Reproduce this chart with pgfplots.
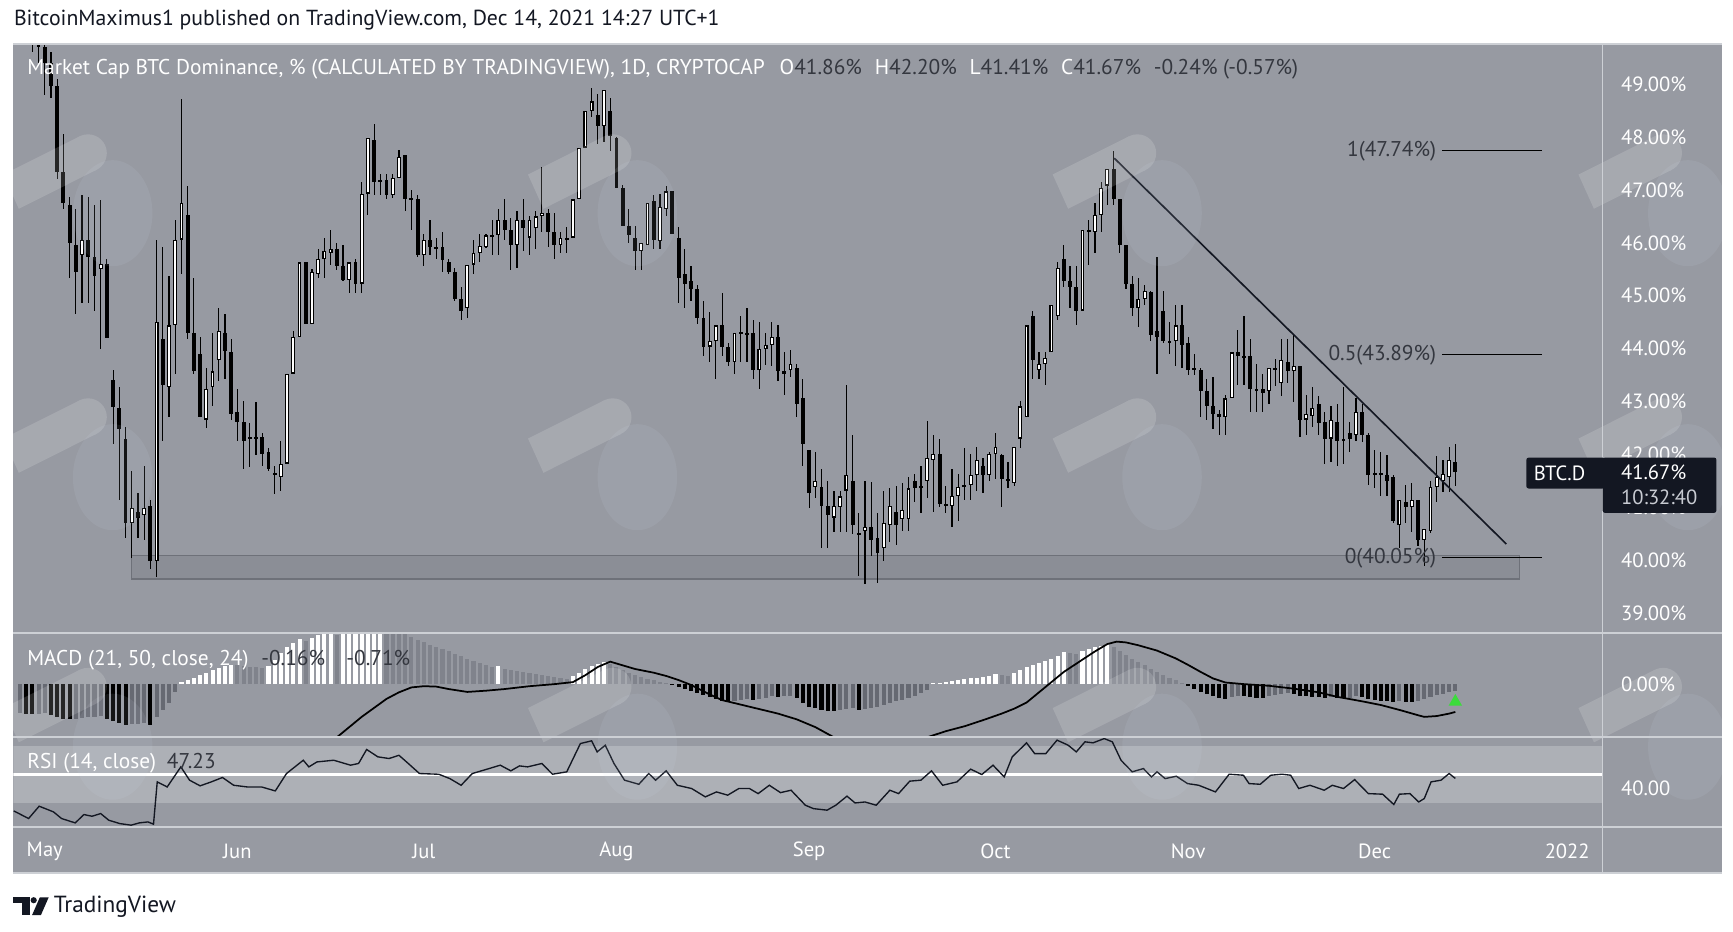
\documentclass[border=0pt]{standalone}
\usepackage{pgfplots}
\pgfplotsset{compat=1.18}
\usepackage{pgfplotstable}
\usepackage{fontspec}
\setmainfont{PT Sans}
\definecolor{pane}{HTML}{979AA2}
\definecolor{sepc}{HTML}{CDD0D5}
\definecolor{dtxt}{HTML}{34373F}
\definecolor{band}{HTML}{ADB0B6}
\definecolor{hgray}{HTML}{80838C}
\definecolor{ngray}{HTML}{666972}
\definecolor{tvblk}{HTML}{131722}
\definecolor{rectf}{HTML}{8B8E96}
\definecolor{rectd}{HTML}{6E7179}
\definecolor{wmblue}{HTML}{D8E0F0}
\newcommand{\tv}{\fontsize{5.5pt}{6.5pt}\selectfont}
\newcommand{\tvs}{\fontsize{5.3pt}{6.3pt}\selectfont}

\pgfplotstableread{
d o h l c
-3 50.6 51.0 50.0 50.3
-2 50.3 50.6 49.6 49.8
-1 49.8 50.1 49.4 49.7
0 49.7 49.9 48.8 49.4
1 49.4 49.6 48.74 48.96
2 48.96 49.1 47.2 47.33
3 47.33 48.06 46.64 46.75
4 46.72 46.86 45.34 46.0
5 45.96 46.64 44.65 45.45
6 45.77 46.9 44.87 46.06
7 46.06 46.86 44.87 45.74
8 45.74 46.72 44.72 45.38
9 45.5 46.8 44.0 45.6
10 45.6 45.7 44.2 44.2
11 43.4 43.6 42.2 42.9
12 42.88 43.28 41.14 42.48
13 42.3 42.52 40.42 40.7
14 40.7 41.68 40.05 40.99
15 40.92 41.28 40.42 40.81
16 40.85 41.79 40.38 40.99
17 41.03 41.14 39.84 39.98
18 39.98 46.06 39.69 44.51
19 44.18 45.92 42.26 43.31
20 43.28 45.38 42.7 44.44
21 44.44 46.43 43.53 46.06
22 46.06 48.71 45.41 46.75
23 46.53 47.08 44.18 44.29
24 44.29 45.34 43.53 43.57
25 43.89 44.22 42.7 42.7
26 42.66 43.64 42.5 43.24
27 43.28 44.29 42.91 43.57
28 43.78 44.76 43.39 44.33
29 44.29 44.65 43.42 43.96
30 43.93 44.18 42.66 42.77
31 42.8 43.24 42.26 42.62
32 42.62 43.02 41.72 42.26
33 42.33 42.59 41.76 42.3
34 42.33 43.0 42.0 42.3
35 42.33 42.41 41.79 42.01
36 42.05 42.12 41.68 41.72
37 41.65 41.79 41.25 41.61
38 41.58 42.26 41.32 41.83
39 41.83 43.53 41.83 43.53
40 43.53 44.33 43.53 44.22
41 44.22 45.63 44.22 45.63
42 45.63 45.63 44.47 44.47
43 44.47 45.5 44.47 45.45
44 45.41 45.88 45.34 45.7
45 45.7 46.1 45.34 45.85
46 45.81 46.25 45.59 45.88
47 45.88 46.0 45.49 45.56
48 45.56 45.96 45.27 45.3
49 45.3 45.63 45.05 45.63
50 45.63 45.7 45.05 45.23
51 45.23 47.15 45.05 46.93
52 46.93 47.98 46.53 47.98
53 47.95 48.24 46.9 47.15
54 47.18 47.3 46.9 47.15
55 47.18 47.3 46.82 46.9
56 46.9 47.3 46.85 47.22
57 47.22 47.76 47.22 47.62
58 47.66 47.66 46.6 46.82
59 46.84 47.0 46.24 46.82
60 46.82 46.9 45.74 45.77
61 45.77 46.17 45.56 46.06
62 46.06 46.43 45.77 45.92
63 45.92 46.1 45.7 45.9
64 45.92 46.2 45.45 45.67
65 45.63 45.7 45.41 45.45
66 45.45 45.52 44.9 44.94
67 44.94 45.16 44.54 44.72
68 44.76 45.59 44.58 45.59
69 45.59 46.06 45.41 45.81
70 45.81 46.17 45.63 45.94
71 45.92 46.17 45.9 46.14
72 46.14 46.43 45.77 46.12
73 46.14 46.64 45.77 46.43
74 46.43 46.82 46.06 46.24
75 46.24 46.46 45.49 45.96
76 45.96 46.6 45.52 46.43
77 46.43 46.82 45.85 46.28
78 46.1 46.5 45.77 46.43
79 46.28 46.6 45.88 46.5
80 46.5 47.44 46.21 46.57
81 46.57 46.64 45.92 46.21
82 46.21 46.57 45.7 45.96
83 45.96 46.2 45.8 46.1
84 46.1 46.3 45.8 46.05
85 46.1 46.82 46.1 46.82
86 46.82 47.8 46.82 47.8
87 47.8 48.49 47.8 48.49
88 48.49 48.92 48.38 48.67
89 48.42 48.82 47.87 48.2
90 48.2 48.89 47.9 48.89
91 48.49 48.74 47.73 48.02
92 47.98 48.0 47.04 47.04
93 47.04 47.1 46.32 46.32
94 46.32 46.64 46.0 46.14
95 46.1 46.32 45.49 45.85
96 45.85 46.0 45.49 45.99
97 45.96 46.75 45.96 46.75
98 46.79 46.9 45.88 46.06
99 46.03 46.93 45.88 46.68
100 46.64 47.08 46.5 46.97
101 46.97 46.97 46.17 46.17
102 46.1 46.3 44.87 45.34
103 45.41 45.88 44.76 45.23
104 45.27 45.56 44.9 45.12
105 45.12 45.2 44.47 44.58
106 44.58 44.9 43.86 44.04
107 44.04 44.69 43.75 44.15
108 44.15 44.44 43.42 44.44
109 44.44 45.05 43.86 44.04
110 44.04 44.11 43.68 43.75
111 43.75 44.29 43.53 44.29
112 44.29 44.62 43.75 44.3
113 44.29 44.76 43.75 44.26
114 44.29 44.54 43.42 43.6
115 43.6 44.51 43.24 44.0
116 44.0 44.3 43.7 44.07
117 44.07 44.51 43.68 44.22
118 44.22 44.44 43.39 43.57
119 43.57 43.93 43.13 43.53
120 43.6 43.97 43.46 43.71
121 43.64 43.71 42.7 42.95
122 43.06 43.42 41.79 42.19
123 42.08 42.08 40.99 41.28
124 41.39 42.05 41.18 41.5
125 41.39 41.72 40.24 41.03
126 41.03 41.5 40.24 40.85
127 40.81 41.32 40.53 41.03
128 41.0 41.32 40.53 41.21
129 41.32 43.31 40.53 41.61
130 41.5 42.37 40.49 40.67
131 40.52 40.9 39.7 40.49
132 40.56 41.5 39.55 40.64
133 40.64 41.48 40.08 40.38
134 40.42 40.9 39.58 40.13
135 40.24 41.32 39.98 40.71
136 40.67 41.36 40.35 41.03
137 40.92 41.4 40.3 40.67
138 40.78 41.46 40.56 40.96
139 40.78 41.57 40.56 41.36
140 41.5 41.64 41.1 41.36
141 41.4 41.79 40.9 41.36
142 41.5 42.63 41.18 41.94
143 41.9 42.37 40.92 42.01
144 42.01 42.3 41.0 41.07
145 41.07 41.4 40.9 41.03
146 41.03 41.72 40.63 41.21
147 41.21 41.64 40.74 41.39
148 41.39 42.12 41.14 41.43
149 41.43 42.01 41.14 41.61
150 41.61 42.15 41.32 41.9
151 41.79 41.93 41.28 41.61
152 41.61 42.05 41.5 42.01
153 42.01 42.41 41.54 42.15
154 42.0 42.01 41.0 41.54
155 41.54 41.86 41.36 41.5
156 41.46 42.15 41.4 42.15
157 42.3 43.02 42.12 42.91
158 42.7 44.44 42.7 44.44
159 44.62 44.72 43.42 43.78
160 43.6 43.93 43.42 43.71
161 43.71 43.93 43.31 43.82
162 43.93 44.83 43.93 44.83
163 44.62 45.63 44.54 45.52
164 45.7 45.96 45.16 45.27
165 45.27 45.56 44.76 45.16
166 45.16 45.56 44.44 44.72
167 44.72 46.24 44.72 46.24
168 46.21 46.43 45.59 46.24
169 46.21 46.75 45.81 46.53
170 46.53 47.15 46.21 47.04
171 47.08 47.4 46.71 47.4
172 47.4 47.74 46.71 46.82
173 46.82 46.82 45.81 45.96
174 45.96 45.96 45.12 45.23
175 45.23 45.38 44.62 44.76
176 44.76 45.34 44.4 44.94
177 44.94 45.2 44.83 45.09
178 45.07 45.09 44.15 44.26
179 44.33 45.74 43.53 44.22
180 44.72 45.09 44.11 44.15
181 44.15 44.5 43.9 44.1
182 44.15 44.83 43.68 44.44
183 44.44 44.83 43.64 44.07
184 44.11 44.22 43.5 43.6
185 43.6 43.9 43.5 43.62
186 43.6 43.64 42.7 43.2
187 43.2 43.42 42.66 42.91
188 42.91 43.46 42.48 42.77
189 42.77 42.84 42.37 42.7
190 42.7 43.13 42.37 43.06
191 43.06 43.93 43.06 43.93
192 43.93 44.36 43.31 43.86
193 43.82 44.62 43.31 43.86
194 43.86 44.18 42.8 43.24
195 43.24 43.71 42.8 43.2
196 43.24 43.53 42.8 43.17
197 43.2 43.64 42.95 43.64
198 43.64 43.8 43.3 43.6
199 43.35 44.18 43.1 43.78
200 43.75 44.18 43.35 43.57
201 43.57 44.25 42.99 43.68
202 43.68 43.68 42.34 42.66
203 42.66 43.13 42.37 42.77
204 42.73 43.28 42.52 42.88
205 42.95 43.1 42.37 42.59
206 42.62 42.8 41.83 42.3
207 42.3 42.91 41.86 42.66
208 42.62 42.95 41.79 42.26
209 42.26 43.28 41.83 42.3
210 42.41 42.62 42.05 42.3
211 42.37 43.06 42.26 42.8
212 42.8 42.95 42.23 42.37
213 42.37 42.41 41.43 41.61
214 41.61 42.08 41.36 41.64
215 41.64 42.05 41.21 41.61
216 41.61 42.0 41.21 41.5
217 41.57 41.61 40.7 40.74
218 40.67 41.14 40.24 41.14
219 41.1 41.43 40.7 41.0
220 41.0 41.46 40.53 41.14
221 41.14 41.14 40.27 40.38
222 40.38 40.6 39.9 40.6
223 40.56 41.5 40.52 41.39
224 41.39 41.97 41.1 41.57
225 41.5 41.9 41.3 41.64
226 41.57 42.15 41.3 41.9
227 41.86 42.20 41.41 41.67
}\candles

\pgfplotstableread{
d v
22 0.05
23 0.10
24 0.16
25 0.22
26 0.28
27 0.34
28 0.40
29 0.45
30 0.48
36 0.45
37 0.60
38 0.75
39 0.90
40 1.00
41 1.10
43 1.12
44 1.20
45 1.25
46 1.30
48 1.25
49 1.30
50 1.35
51 1.40
52 1.50
53 1.55
54 1.60
73 0.45
85 0.20
86 0.28
87 0.36
88 0.44
89 0.50
90 0.55
143 0.02
144 0.04
145 0.06
146 0.08
147 0.10
148 0.12
149 0.14
150 0.16
151 0.18
152 0.20
153 0.24
156 0.28
157 0.34
158 0.42
159 0.48
160 0.52
161 0.56
162 0.62
163 0.70
164 0.78
167 0.82
168 0.86
169 0.90
170 0.94
171 0.98
}\histW
\pgfplotstableread{
d v
31 0.46
32 0.44
33 0.43
34 0.42
35 0.40
42 1.05
47 1.20
55 1.50
56 1.40
57 1.30
58 1.22
59 1.15
60 1.08
61 1.02
62 0.96
63 0.90
64 0.85
65 0.80
66 0.74
67 0.68
68 0.62
69 0.56
70 0.51
71 0.46
72 0.42
74 0.38
75 0.35
76 0.33
77 0.30
78 0.28
79 0.25
80 0.22
81 0.20
82 0.17
83 0.15
84 0.12
91 0.50
92 0.42
93 0.35
94 0.28
95 0.22
96 0.17
97 0.13
98 0.09
99 0.06
100 0.03
154 0.22
155 0.20
165 0.76
166 0.74
172 0.92
173 0.82
174 0.72
175 0.62
176 0.54
177 0.46
178 0.38
179 0.30
180 0.22
181 0.15
182 0.09
183 0.04
}\histG
\pgfplotstableread{
d v
-3 -0.72
-2 -0.74
1 -0.75
2 -0.80
3 -0.84
4 -0.86
10 -0.84
11 -0.90
12 -0.95
13 -1.00
17 -1.00
101 -0.03
102 -0.08
103 -0.12
104 -0.17
105 -0.22
106 -0.27
107 -0.32
108 -0.36
109 -0.40
110 -0.42
114 -0.38
118 -0.31
121 -0.34
122 -0.45
123 -0.55
124 -0.58
125 -0.62
126 -0.65
127 -0.66
131 -0.62
184 -0.05
185 -0.12
186 -0.18
187 -0.24
188 -0.30
189 -0.34
190 -0.36
193 -0.30
194 -0.32
195 -0.33
196 -0.34
201 -0.24
202 -0.28
203 -0.30
204 -0.31
205 -0.32
206 -0.33
208 -0.34
209 -0.35
212 -0.32
213 -0.36
214 -0.38
215 -0.40
216 -0.41
217 -0.43
219 -0.43
220 -0.44
}\histB
\pgfplotstableread{
d v
-4 -0.70
-1 -0.72
0 -0.70
5 -0.85
6 -0.82
7 -0.80
8 -0.80
9 -0.78
14 -0.98
15 -0.97
16 -0.96
18 -0.80
19 -0.62
20 -0.45
21 -0.20
111 -0.40
112 -0.38
113 -0.36
115 -0.36
116 -0.33
117 -0.30
119 -0.30
120 -0.28
128 -0.64
129 -0.60
130 -0.58
132 -0.60
133 -0.58
134 -0.55
135 -0.50
136 -0.46
137 -0.42
138 -0.38
139 -0.33
140 -0.28
141 -0.22
142 -0.14
191 -0.32
192 -0.28
197 -0.30
198 -0.27
199 -0.24
200 -0.22
207 -0.32
210 -0.33
211 -0.30
218 -0.42
221 -0.40
222 -0.36
223 -0.31
224 -0.27
225 -0.23
226 -0.19
227 -0.16
}\histN

\pgfplotstableread{
d v
-5 -1.5
0 -1.8
10 -2.3
18 -2.8
25 -2.5
35 -2.1
42 -1.7
47 -1.3
49 -1.05
51 -0.80
53 -0.58
55 -0.36
57 -0.20
59 -0.08
61 -0.05
63 -0.06
65 -0.12
68 -0.19
71 -0.16
74 -0.12
78 -0.05
82 0.0
85 0.05
87 0.22
89 0.42
91 0.55
93 0.46
95 0.37
98 0.28
100 0.20
102 0.10
104 -0.02
107 -0.25
109 -0.39
112 -0.50
115 -0.61
118 -0.72
121 -0.86
124 -1.05
127 -1.30
132 -1.6
137 -1.7
142 -1.30
145 -1.15
148 -1.03
151 -0.88
154 -0.72
156 -0.60
158 -0.45
160 -0.20
162 0.05
164 0.30
167 0.60
169 0.80
171 0.98
172.5 1.04
174 1.02
176 0.95
179 0.82
182 0.63
184 0.47
186 0.30
188 0.14
190 0.04
193 0.0
197 -0.04
201 -0.11
205 -0.20
208 -0.31
212 -0.42
215 -0.51
218 -0.63
221 -0.76
222 -0.80
224 -0.78
226 -0.72
227 -0.68
}\macd

\pgfplotstableread{
d r
-5 24.3
-2.6 18.9
-0.9 27.6
1.4 23.6
2.7 18.9
4.9 15.8
6.3 21.7
7.6 20.5
9 22.4
10.3 17.7
12.1 15.3
13.9 14.2
15.2 15.8
16.6 16.5
17.5 14.9
18.1 44.8
19.7 41.2
21.9 55.4
23.3 46
25 42
26.8 44.8
28.6 47.9
30.4 42.4
32.6 41.2
34.9 41.2
37.1 38.4
38.9 50.7
41.6 60.1
42.5 55.4
43.8 58.9
46.5 60.1
49.2 56.6
50.5 57.8
51.8 67.7
53.6 62.5
55.4 61.3
57 63.6
58.5 57.8
60.3 50.7
63.4 50.2
65.2 47.1
67 42.4
68.8 50.7
71.5 54.2
73.3 56.6
75 52.6
76.4 56.1
77.7 55.4
80 57.8
81.7 50.2
84 51.9
86.2 71.9
88 73.8
88.9 66
90.2 70.7
91.6 57.8
93.3 46
95.6 43.1
97.2 50.7
98.3 46
100 52.6
101.8 42.4
104.1 40.1
106.3 34.2
108.1 37.7
109.9 35.4
111.7 40.1
113.4 40.1
114.8 36.5
116.6 42.4
118.4 37.2
120.1 38.9
122.4 28.3
123.7 25.9
125.9 24.8
127.3 28.3
129.1 34.7
130.4 29.9
132 30.6
133.8 28.3
136 38.9
137.4 36.5
139.2 45.3
141 46
142.7 52.6
144.5 42.4
146.8 44.8
149 53.8
150.8 50
152.6 56.6
154.4 48.3
155.7 62.5
158 72.4
159.3 64.8
161.1 64.8
162.9 74.3
164.7 70.7
166 66
167.4 73.1
168.7 72.4
170.5 75.4
171.8 73.1
173.2 60.1
175 51.9
176.8 54.2
178.1 48.3
179 51.9
180.3 47.1
182.1 48.8
183.9 43.6
185.7 42.4
188.4 37.7
190.6 50.2
192.9 49.5
193.8 43.6
195.6 43.1
197.3 49.5
199.1 50.2
200.5 49.5
201.8 40.1
203.6 42.4
205.9 38.9
207.2 42.4
209 40.1
210.8 46.4
213 36.5
215.3 36.1
217.1 28.8
218 36.1
219.7 36.5
221.1 30.6
222 33
223.1 44.8
224.7 46
226 50.7
227 47.23
}\rsi

\pgfplotsset{tvaxis/.style={
  anchor=south west, scale only axis, width=14.38cm,
  xmin=-5.07, xmax=250.7,
  axis line style={draw=none}, major tick length=0pt,
  xtick=\empty, clip=true,
  yticklabel pos=right,
  yticklabel style={text=white, anchor=west, inner sep=0pt, xshift=0.16cm, font=\tvs},
  /pgf/number format/assume math mode=true,
},
candle/.style={draw=none, mark=none, forget plot, error bars/.cd, y dir=both, y explicit, error mark=none}}

% watermark parts, origin = top-left corner (0.01 cm units, y down)
\newcommand{\wmbar}[2]{%
  \begin{scope}[shift={(#1*0.01cm,-#2*0.01cm)}, x=0.01cm, y=-0.01cm]
    \fill (1,35) -- (70.1,0.4) -- (85.3,30.8) -- (15,66) -- cycle;
    \fill (77.7,15.6) circle (17);
  \end{scope}}
\newcommand{\wmhead}[2]{%
  \begin{scope}[shift={(#1*0.01cm,-#2*0.01cm)}, x=0.01cm, y=-0.01cm]
    \fill (100,70) ellipse (36 and 48);
  \end{scope}}

\begin{document}
\begin{tikzpicture}
\path[use as bounding box] (0cm,0cm) rectangle (15.68cm,-8.43cm);
\fill[white] (0cm,0cm) rectangle (15.68cm,-8.43cm);
\fill[pane] (0.12cm,-0.40cm) rectangle (15.58cm,-7.90cm);

% main pane
\begin{axis}[tvaxis, at={(0.12cm,-5.72cm)}, height=5.32cm,
  ymin=38.643, ymax=49.752, ytick={39,40,...,49},
  yticklabel={\pgfmathprintnumber[fixed,fixed zerofill,precision=2]{\tick}\%}]
\addplot[fill=rectf, draw=rectd, line width=0.4pt] coordinates {(13.96,39.65) (237.3,39.65) (237.3,40.09) (13.96,40.09)} -- cycle;
\addplot[candle, error bar style={draw=black, line width=0.3pt}]
  table[x=d, y expr={(\thisrow{h}+\thisrow{l})/2}, y error expr={(\thisrow{h}-\thisrow{l})/2}] {\candles};
\addplot[candle, error bar style={draw=black, line width=1.0pt}]
  table[x=d, y expr={(\thisrow{o}+\thisrow{c})/2}, y error expr={max(abs(\thisrow{c}-\thisrow{o})/2,0.02)}] {\candles};
\addplot[candle, error bar style={draw=white, line width=0.45pt}]
  table[x=d, y expr={(\thisrow{o}+\thisrow{c})/2}, y error expr={max((\thisrow{c}-\thisrow{o})/2-0.022,0)}] {\candles};
\addplot[tvblk, line width=0.42pt] coordinates {(172.1,47.6) (235.2,40.31)};
\addplot[black, line width=0.35pt] coordinates {(224.9,47.74) (240.9,47.74)};
\addplot[black, line width=0.35pt] coordinates {(224.9,43.89) (240.9,43.89)};
\addplot[black, line width=0.35pt] coordinates {(224.9,40.05) (240.9,40.05)};
\end{axis}

% MACD pane
\begin{axis}[tvaxis, at={(0.12cm,-6.66cm)}, height=0.92cm,
  ymin=-1.27, ymax=1.216, ytick={0}, yticklabel={0.00\%}]
\addplot[ycomb, mark=none, draw=white, line width=1.05pt] table[x=d,y=v] {\histW};
\addplot[ycomb, mark=none, draw=hgray, line width=1.05pt] table[x=d,y=v] {\histG};
\addplot[ycomb, mark=none, draw=black, line width=1.05pt] table[x=d,y=v] {\histB};
\addplot[ycomb, mark=none, draw=ngray, line width=1.05pt] table[x=d,y=v] {\histN};
\addplot[black, line width=0.45pt, mark=none] table[x=d,y=v] {\macd};
\addplot[only marks, mark=triangle*, mark size=1.6pt, color={rgb,255:red,60;green,220;blue,60}] coordinates {(227,-0.43)};
\end{axis}

% RSI pane
\begin{axis}[tvaxis, at={(0.12cm,-7.48cm)}, height=0.80cm,
  ymin=13.1, ymax=75.6, ytick={40}, yticklabel={40.00},
  xtick={0,31,61,92,123,153,184,214,245},
  xticklabels={May,Jun,Jul,Aug,Sep,Oct,Nov,Dec,2022},
  xticklabel style={text=white, font=\tvs, anchor=center, inner sep=0pt, yshift=-0.22cm}]
\addplot[fill=band, draw=none] coordinates {(-6,30) (252,30) (252,70) (-6,70)} -- cycle;
\addplot[white, line width=0.6pt] coordinates {(-6,50) (252,50)};
\addplot[tvblk, line width=0.35pt, mark=none] table[x=d,y=r] {\rsi};
\end{axis}

% watermarks
\begin{scope}
\clip (0.12cm,-0.40cm) rectangle (15.58cm,-7.48cm);
\begin{scope}[transparency group, opacity=0.09]
\begin{scope}[wmblue]
\wmhead{2}{123}\wmhead{477}{123}\wmhead{952}{123}\wmhead{1428}{123}
\wmhead{2}{362}\wmhead{477}{362}\wmhead{952}{362}\wmhead{1428}{362}
\wmhead{2}{606}\wmhead{477}{606}\wmhead{952}{606}\wmhead{1428}{606}
\end{scope}
\end{scope}
\begin{scope}[transparency group, opacity=0.15]
\begin{scope}[white]
\wmbar{2}{123}\wmbar{477}{123}\wmbar{952}{123}\wmbar{1428}{123}
\wmbar{2}{362}\wmbar{477}{362}\wmbar{952}{362}\wmbar{1428}{362}
\wmbar{2}{606}\wmbar{477}{606}\wmbar{952}{606}\wmbar{1428}{606}
\end{scope}
\end{scope}
\end{scope}

% separators
\draw[sepc, line width=0.45pt] (0.12cm,-0.40cm) -- (15.58cm,-0.40cm);
\draw[sepc, line width=0.45pt] (0.12cm,-5.73cm) -- (15.58cm,-5.73cm);
\draw[sepc, line width=0.45pt] (0.12cm,-6.67cm) -- (15.58cm,-6.67cm);
\draw[sepc, line width=0.45pt] (0.12cm,-7.485cm) -- (15.58cm,-7.485cm);
\draw[sepc, line width=0.45pt] (0.12cm,-7.90cm) -- (15.58cm,-7.90cm);
\draw[sepc, line width=0.45pt] (14.50cm,-0.40cm) -- (14.50cm,-7.90cm);

% texts
\node[anchor=west, inner sep=0pt, font=\fontsize{5.6pt}{6.5pt}\selectfont, text=tvblk] at (0.12cm,-0.18cm) {BitcoinMaximus1 published on TradingView.com, Dec 14, 2021 14:27 UTC+1};
\node[anchor=west, inner sep=0pt, font=\tv, text=white] at (0.24cm,-0.63cm) {Market Cap BTC Dominance, \% (CALCULATED BY TRADINGVIEW), 1D, CRYPTOCAP\hspace{0.7em}O\textcolor{dtxt}{41.86\%}\hspace{0.6em}H\textcolor{dtxt}{42.20\%}\hspace{0.6em}L\textcolor{dtxt}{41.41\%}\hspace{0.6em}C\textcolor{dtxt}{41.67\%}\hspace{0.6em}\textcolor{dtxt}{-0.24\% (-0.57\%)}};
\node[anchor=west, inner sep=0pt, font=\tv, text=white] at (0.24cm,-5.97cm) {MACD (21, 50, close, 24)\hspace{0.6em}\textcolor{dtxt}{-0.16\%}\hspace{1em}\textcolor{dtxt}{-0.71\%}};
\node[anchor=west, inner sep=0pt, font=\tv, text=white] at (0.24cm,-6.91cm) {RSI (14, close)\hspace{0.5em}\textcolor{dtxt}{47.23}};
\node[anchor=east, inner sep=0pt, font=\tv, text=dtxt] at (13.00cm,-1.37cm) {1(47.74\%)};
\node[anchor=east, inner sep=0pt, font=\tv, text=dtxt] at (13.00cm,-3.21cm) {0.5(43.89\%)};
\node[anchor=east, inner sep=0pt, font=\tv, text=dtxt] at (13.00cm,-5.05cm) {0(40.05\%)};

% price label
\fill[tvblk, rounded corners=0.6pt] (13.81cm,-4.14cm) rectangle (14.52cm,-4.42cm);
\fill[tvblk, rounded corners=0.6pt] (14.50cm,-4.14cm) rectangle (15.53cm,-4.64cm);
\node[anchor=west, inner sep=0pt, font=\tvs, text=white] at (13.87cm,-4.28cm) {BTC.D};
\node[anchor=west, inner sep=0pt, font=\tvs, text=white] at (14.66cm,-4.27cm) {41.67\%};
\node[anchor=west, inner sep=0pt, font=\tvs, text={rgb,255:red,200;green,203;blue,210}] at (14.66cm,-4.50cm) {10:32:40};

% logo
\fill[tvblk] (0.12cm,-8.12cm) rectangle (0.27cm,-8.17cm);
\fill[tvblk] (0.20cm,-8.12cm) rectangle (0.27cm,-8.28cm);
\fill[tvblk] (0.305cm,-8.145cm) circle (0.028cm);
\fill[tvblk] (0.36cm,-8.12cm) -- (0.44cm,-8.12cm) -- (0.37cm,-8.28cm) -- (0.29cm,-8.28cm) -- cycle;
\node[anchor=west, inner sep=0pt, font=\fontsize{6pt}{7pt}\selectfont, text=tvblk] at (0.48cm,-8.20cm) {TradingView};
\end{tikzpicture}
\end{document}
